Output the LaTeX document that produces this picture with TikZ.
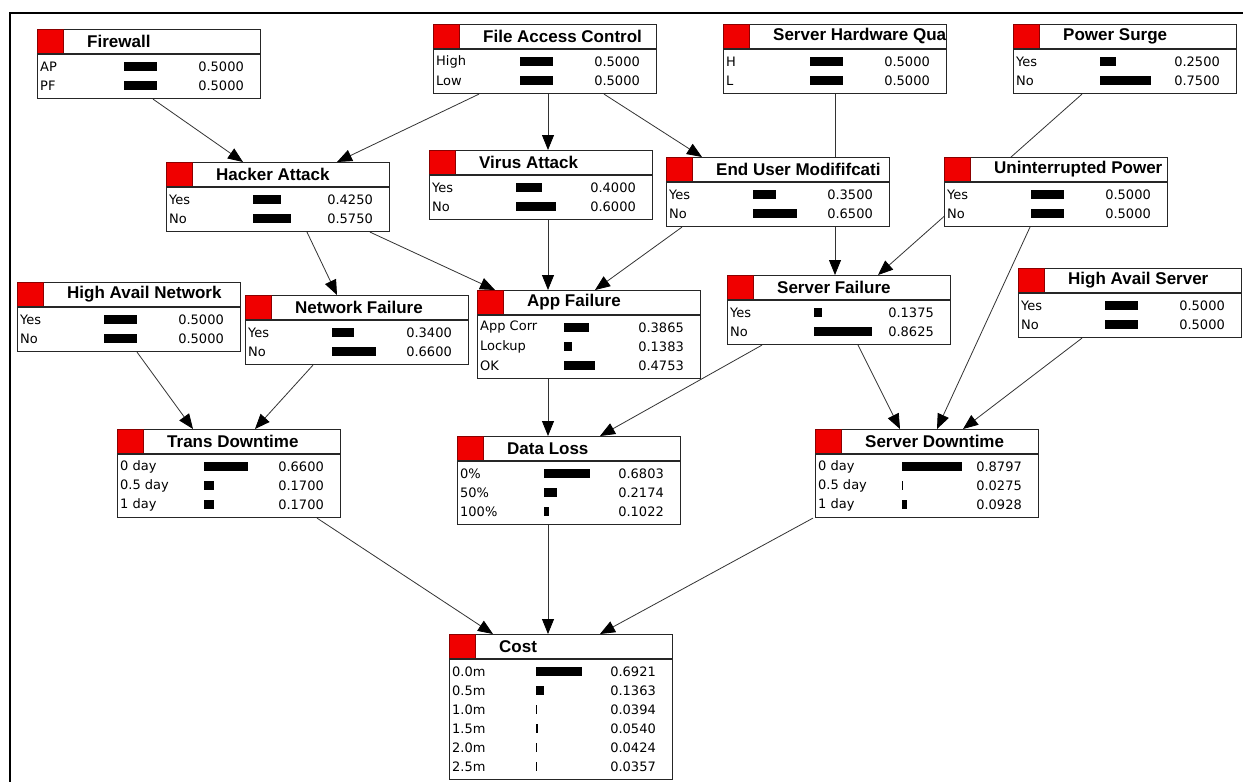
\documentclass[tikz,border=0pt]{standalone}
\usepackage{fontspec}
\newfontfamily\ttlfont{Liberation Sans}
\newfontfamily\rowfnt{DejaVu Sans}
\usetikzlibrary{arrows.meta}
\pgfdeclarelayer{bg}
\pgfsetlayers{bg,main}
\tikzset{
 bnbox/.style={draw=black!85, line width=1.1pt, fill=white, inner sep=0pt, minimum width=223pt, anchor=north west},
 redsq/.style={fill={rgb,255:red,240;green,0;blue,0}, draw={rgb,255:red,140;green,0;blue,0}, line width=0.8pt},
 ttl/.style={font=\ttlfont\bfseries\fontsize{17}{20}\selectfont, inner sep=0pt, anchor=west},
 rowt/.style={font=\rowfnt\fontsize{13}{15}\selectfont, inner sep=0pt},
 edge/.style={draw=black!80, line width=0.8pt, -{Triangle[length=15pt,width=12pt,color=black,fill=black]}},
}
\newcommand\bnnode[6]{%
  \node[bnbox, minimum height={31pt+19pt*#4}] (#1) at (#2,#3) {};
  \begin{scope}
   \clip (#1.north west) rectangle (#1.south east);
   \node[ttl] at ([xshift=50pt,yshift=-12.5pt]#1.north west) {#5};
  \end{scope}
  \draw[redsq] (#1.north west) rectangle ([xshift=26pt,yshift=-25pt]#1.north west);
  \draw[line width=1.1pt, draw=black!85] ([yshift=-25pt]#1.north west) -- ([yshift=-25pt]#1.north east);
  \foreach \lab/\val [count=\i] in {#6} {
    \pgfmathsetmacro\yy{37.5+19*(\i-1)}
    \pgfmathsetmacro\ww{max(1,70*\val-2)}
    \node[rowt, anchor=west] at ([xshift=3pt,yshift={-\yy pt}]#1.north west) {\lab};
    \fill ([xshift=87pt,yshift={-\yy pt+4.5pt}]#1.north west) rectangle ++(\ww pt,-9pt);
    \node[rowt, anchor=east] at ([xshift=207pt,yshift={-\yy pt}]#1.north west) {\val};
  }%
}
\begin{document}
\begin{tikzpicture}[x=1pt,y=-1pt]
\useasboundingbox (0,0) rectangle (1243,782);
\begin{pgfonlayer}{bg}
\fill[white] (0,0) rectangle (1243,782);
\end{pgfonlayer}
\draw[line width=2pt] (10,782) -- (10,13) -- (1243,13);

\bnnode{fw}{37}{29}{2}{Firewall}{AP/0.5000, PF/0.5000}
\bnnode{fac}{433}{24}{2}{File Access Control}{High/0.5000, Low/0.5000}
\bnnode{sh}{723}{24}{2}{Server Hardware Qua}{H/0.5000, L/0.5000}
\bnnode{ps}{1013}{24}{2}{Power Surge}{Yes/0.2500, No/0.7500}
\bnnode{ha}{166}{162}{2}{Hacker Attack}{Yes/0.4250, No/0.5750}
\bnnode{va}{429}{150}{2}{Virus Attack}{Yes/0.4000, No/0.6000}
\bnnode{eu}{666}{157}{2}{End User Modififcati}{Yes/0.3500, No/0.6500}
\bnnode{up}{944}{157}{2}{Uninterrupted Power}{Yes/0.5000, No/0.5000}
\bnnode{han}{17}{282}{2}{High Avail Network}{Yes/0.5000, No/0.5000}
\bnnode{nf}{245}{295}{2}{Network Failure}{Yes/0.3400, No/0.6600}
\bnnode{af}{477}{290}{3}{App Failure}{App Corr/0.3865, Lockup/0.1383, OK/0.4753}
\bnnode{sf}{727}{275}{2}{Server Failure}{Yes/0.1375, No/0.8625}
\bnnode{has}{1018}{268}{2}{High Avail Server}{Yes/0.5000, No/0.5000}
\bnnode{td}{117}{429}{3}{Trans Downtime}{0 day/0.6600, 0.5 day/0.1700, 1 day/0.1700}
\bnnode{dl}{457}{436}{3}{Data Loss}{0\%/0.6803, 50\%/0.2174, 100\%/0.1022}
\bnnode{sd}{815}{429}{3}{Server Downtime}{0 day/0.8797, 0.5 day/0.0275, 1 day/0.0928}
\bnnode{cost}{449}{634}{6}{Cost}{0.0m/0.6921, 0.5m/0.1363, 1.0m/0.0394, 1.5m/0.0540, 2.0m/0.0424, 2.5m/0.0357}

\begin{pgfonlayer}{bg}
\draw[edge] ([xshift=116pt]fw.south west) -- ([xshift=77pt]ha.north west);
\draw[edge] ([xshift=46pt]fac.south west) -- ([xshift=171pt]ha.north west);
\draw[edge] ([xshift=119pt]va.north west |- fac.south) -- ([xshift=119pt]va.north west);
\draw[edge] ([xshift=171pt]fac.south west) -- ([xshift=36pt]eu.north west);
\draw[edge] ([xshift=141pt]ha.south west) -- ([xshift=92pt]nf.north west);
\draw[edge] ([xshift=204pt]ha.south west) -- ([xshift=18pt]af.north west);
\draw[edge] ([xshift=119pt]va.south west) -- ([xshift=71pt]af.north west);
\draw[edge] ([xshift=16pt]eu.south west) -- ([xshift=118pt]af.north west);
\draw[edge] ([xshift=112pt]sh.south west) -- ([xshift=108pt]sf.north west);
\draw[edge] ([xshift=69pt]ps.south west) -- ([xshift=151pt]sf.north west);
\draw[edge] ([xshift=86pt]up.south west) -- ([xshift=122pt]sd.north west);
\draw[edge] ([xshift=64pt]has.south west) -- ([xshift=148pt]sd.north west);
\draw[edge] ([xshift=131pt]sf.south west) -- ([xshift=85pt]sd.north west);
\draw[edge] ([xshift=35pt]sf.south west) -- ([xshift=143pt]dl.north west);
\draw[edge] ([xshift=71pt]af.south west) -- ([xshift=91pt]dl.north west);
\draw[edge] ([xshift=120pt]han.south west) -- ([xshift=76pt]td.north west);
\draw[edge] ([xshift=68pt]nf.south west) -- ([xshift=138pt]td.north west);
\draw[edge] ([xshift=200pt]td.south west) -- ([xshift=44pt]cost.north west);
\draw[edge] ([xshift=91pt]dl.south west) -- ([xshift=99pt]cost.north west);
\draw[edge] ([xshift=-2pt]sd.south west) -- ([xshift=151pt]cost.north west);
\end{pgfonlayer}
\end{tikzpicture}
\end{document}
